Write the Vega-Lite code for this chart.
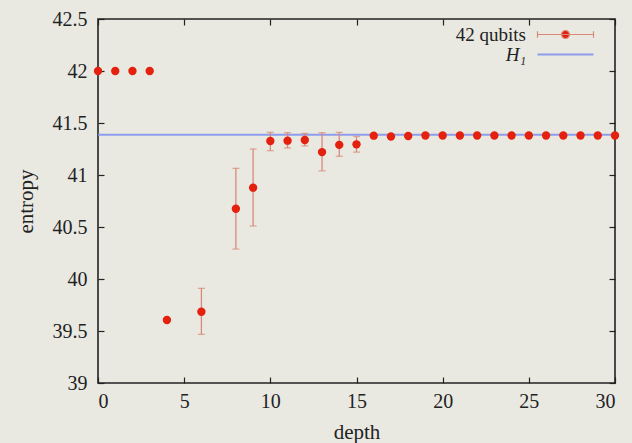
{
  "$schema": "https://vega.github.io/schema/vega-lite/v6.json",
  "width": 517,
  "height": 364,
  "autosize": {"type": "none"},
  "padding": {"left": 98, "top": 19, "right": 17, "bottom": 60},
  "background": "#e9e9e2",
  "config": {
    "view": {"stroke": "#222222", "strokeWidth": 1.6},
    "font": "Liberation Serif",
    "axis": {
      "labelFont": "Liberation Serif",
      "titleFont": "Liberation Serif",
      "labelFontSize": 20,
      "titleFontSize": 21,
      "labelColor": "#222222",
      "titleColor": "#222222",
      "titleFontWeight": "normal",
      "domainColor": "#222222",
      "domainWidth": 1.6,
      "tickColor": "#222222",
      "tickWidth": 1.2,
      "tickSize": -6,
      "grid": false
    },
    "legend": {
      "labelFont": "Liberation Serif",
      "labelFontSize": 20,
      "labelColor": "#222222",
      "padding": 0
    }
  },
  "datasets": {
    "pts": [
      {"depth": 0, "entropy": 42.0, "series": "42 qubits"},
      {"depth": 1, "entropy": 42.0, "series": "42 qubits"},
      {"depth": 2, "entropy": 42.0, "series": "42 qubits"},
      {"depth": 3, "entropy": 42.0, "series": "42 qubits"},
      {"depth": 4, "entropy": 39.606, "series": "42 qubits"},
      {"depth": 6, "entropy": 39.685, "lo": 39.468, "hi": 39.91, "series": "42 qubits"},
      {"depth": 8, "entropy": 40.676, "lo": 40.288, "hi": 41.064, "series": "42 qubits"},
      {"depth": 9, "entropy": 40.878, "lo": 40.51, "hi": 41.25, "series": "42 qubits"},
      {"depth": 10, "entropy": 41.327, "lo": 41.234, "hi": 41.41, "series": "42 qubits"},
      {"depth": 11, "entropy": 41.33, "lo": 41.26, "hi": 41.407, "series": "42 qubits"},
      {"depth": 12, "entropy": 41.337, "lo": 41.28, "hi": 41.4, "series": "42 qubits"},
      {"depth": 13, "entropy": 41.22, "lo": 41.04, "hi": 41.407, "series": "42 qubits"},
      {"depth": 14, "entropy": 41.29, "lo": 41.18, "hi": 41.41, "series": "42 qubits"},
      {"depth": 15, "entropy": 41.295, "lo": 41.22, "hi": 41.37, "series": "42 qubits"},
      {"depth": 16, "entropy": 41.378, "series": "42 qubits"},
      {"depth": 17, "entropy": 41.37, "series": "42 qubits"},
      {"depth": 18, "entropy": 41.375, "series": "42 qubits"},
      {"depth": 19, "entropy": 41.38, "series": "42 qubits"},
      {"depth": 20, "entropy": 41.38, "series": "42 qubits"},
      {"depth": 21, "entropy": 41.38, "series": "42 qubits"},
      {"depth": 22, "entropy": 41.38, "series": "42 qubits"},
      {"depth": 23, "entropy": 41.38, "series": "42 qubits"},
      {"depth": 24, "entropy": 41.38, "series": "42 qubits"},
      {"depth": 25, "entropy": 41.38, "series": "42 qubits"},
      {"depth": 26, "entropy": 41.38, "series": "42 qubits"},
      {"depth": 27, "entropy": 41.38, "series": "42 qubits"},
      {"depth": 28, "entropy": 41.38, "series": "42 qubits"},
      {"depth": 29, "entropy": 41.38, "series": "42 qubits"},
      {"depth": 30, "entropy": 41.38, "series": "42 qubits"}
    ],
    "h1": [
      {"entropy": 41.387, "series": "H₁"}
    ]
  },
  "resolve": {"axis": {"x": "independent", "y": "independent"}, "scale": {"color": "independent"}},
  "layer": [
    {
      "data": {"name": "h1"},
      "mark": {"type": "rule", "strokeWidth": 2, "opacity": 0.9},
      "encoding": {
        "y": {"field": "entropy", "type": "quantitative", "scale": {"domain": [39, 42.5], "nice": false, "zero": false}, "axis": null},
        "color": {
          "field": "series", "type": "nominal",
          "scale": {"domain": ["H₁"], "range": ["#8494ee"]},
          "legend": {
            "title": null,
            "orient": "none",
            "legendX": 458,
            "legendY": 26,
            "symbolSize": 256,
            "symbolType": "M-3.5,0L3.5,0",
            "symbolStrokeWidth": 2,
            "labelFontStyle": "italic",
            "labelFontSize": 19,
            "labelAlign": "right",
            "labelOffset": -49
          }
        }
      }
    },
    {
      "data": {"name": "pts"},
      "transform": [{"filter": "isValid(datum.lo)"}],
      "mark": {"type": "rule", "color": "#d88a7a", "strokeWidth": 1.3},
      "encoding": {
        "x": {"field": "depth", "type": "quantitative", "scale": {"domain": [0, 30], "nice": false, "zero": false},
              "axis": {"orient": "top", "values": [0, 5, 10, 15, 20, 25, 30], "labels": false, "title": null, "domain": false}},
        "y": {"field": "lo", "type": "quantitative", "scale": {"domain": [39, 42.5], "nice": false, "zero": false},
              "axis": {"orient": "right", "values": [39, 39.5, 40, 40.5, 41, 41.5, 42, 42.5], "labels": false, "title": null, "domain": false}},
        "y2": {"field": "hi"}
      }
    },
    {
      "data": {"name": "pts"},
      "transform": [{"filter": "isValid(datum.lo)"}],
      "mark": {"type": "tick", "orient": "horizontal", "color": "#d88a7a", "size": 7, "thickness": 1.3},
      "encoding": {
        "x": {"field": "depth", "type": "quantitative", "scale": {"domain": [0, 30], "nice": false, "zero": false}, "axis": null},
        "y": {"field": "lo", "type": "quantitative", "scale": {"domain": [39, 42.5], "nice": false, "zero": false}, "axis": null}
      }
    },
    {
      "data": {"name": "pts"},
      "transform": [{"filter": "isValid(datum.hi)"}],
      "mark": {"type": "tick", "orient": "horizontal", "color": "#d88a7a", "size": 7, "thickness": 1.3},
      "encoding": {
        "x": {"field": "depth", "type": "quantitative", "scale": {"domain": [0, 30], "nice": false, "zero": false}, "axis": null},
        "y": {"field": "hi", "type": "quantitative", "scale": {"domain": [39, 42.5], "nice": false, "zero": false}, "axis": null}
      }
    },
    {
      "data": {"name": "pts"},
      "mark": {"type": "point", "filled": true, "size": 70, "opacity": 1},
      "encoding": {
        "x": {"field": "depth", "type": "quantitative", "scale": {"domain": [0, 30], "nice": false, "zero": false},
              "axis": {"orient": "bottom", "values": [0, 5, 10, 15, 20, 25, 30], "title": "depth", "labelPadding": 14, "titlePadding": 10, "domain": false,
                       "encode": {"labels": {"update": {"font": {"value": "Liberation Serif"}}}}}},
        "y": {"field": "entropy", "type": "quantitative", "scale": {"domain": [39, 42.5], "nice": false, "zero": false},
              "axis": {"orient": "left", "values": [39, 39.5, 40, 40.5, 41, 41.5, 42, 42.5], "format": "~g", "title": "entropy", "labelPadding": 17, "titlePadding": 16, "domain": false,
                       "encode": {"labels": {"update": {"font": {"value": "Liberation Serif"}}}}}},
        "color": {
          "field": "series", "type": "nominal",
          "scale": {"domain": ["42 qubits"], "range": ["#e3210e"]},
          "legend": {
            "title": null,
            "orient": "none",
            "legendX": 458,
            "legendY": 6,
            "symbolSize": 256,
            "symbolType": "M-3.5,0L3.5,0M-3.5,-0.42L-3.5,0.42M3.5,-0.42L3.5,0.42M-0.5,0A0.5,0.5 0 1,0 0.5,0A0.5,0.5 0 1,0 -0.5,0",
            "symbolStrokeColor": "#d88a7a",
            "symbolFillColor": "#e3210e",
            "symbolStrokeWidth": 1.2,
            "symbolOpacity": 1,
            "labelFontSize": 19,
            "labelAlign": "right",
            "labelOffset": -49
          }
        }
      }
    }
  ]
}
